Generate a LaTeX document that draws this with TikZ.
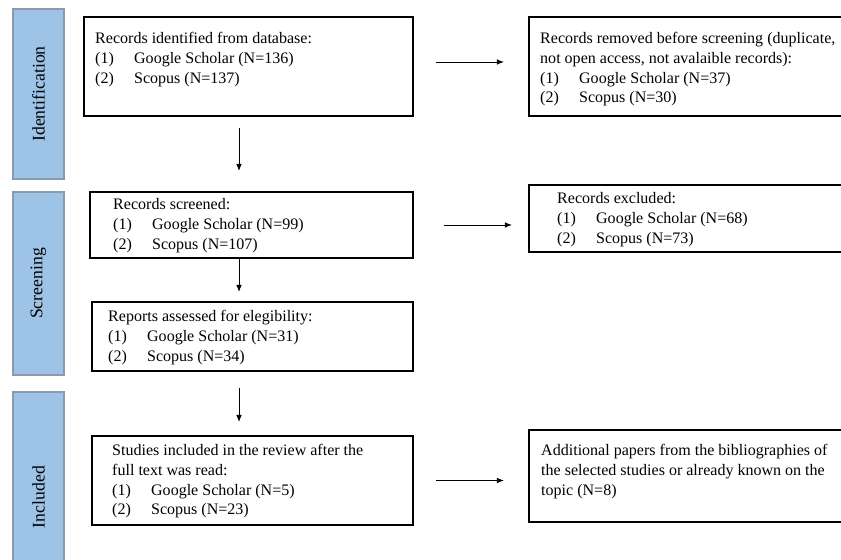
\documentclass[tikz,border=0pt]{standalone}
\usepackage{fontspec}
\setmainfont{Liberation Serif}
\usetikzlibrary{positioning,arrows.meta}

\definecolor{phasefill}{HTML}{9DC3E6}
\definecolor{phaseline}{HTML}{8A9AAD}
\newcommand{\px}{0.025cm}
\newcommand{\itm}[2]{\makebox[27.7pt][l]{#1}#2}

\begin{document}
\begin{tikzpicture}[
    x=0.025cm, y=-0.025cm,
    phase/.style={rectangle, draw=phaseline, line width=0.8pt, fill=phasefill, rotate=90,
                  minimum height=51*\px, inner sep=0pt, font=\fontsize{12.6}{14}\selectfont},
    box/.style={rectangle, draw=black, line width=1.5pt, inner sep=0pt},
    txt/.style={anchor=north west, inner sep=0pt, align=left, font=\fontsize{11.4}{13.94}\selectfont},
    arrow/.style={-{Latex[length=5pt,width=4pt]}, line width=0.6pt, black}
]
\useasboundingbox (0,0) rectangle (841,559);
\clip (0,0) rectangle (841,559);

% Phases
\node[phase, minimum width=170*\px] (pident) at (38.5,94) {Identification};
\node[phase, minimum width=183*\px] (pscreen) at (38.5,283.5) {Screening};
\node[phase, minimum width=210*\px] (pincl) at (38.5,497) {Included};

% Main column
\node[box, minimum width=329*\px, minimum height=99*\px] (ident) at (248.5,66.5) {};
\node[txt] (identtxt) at ([shift={(12,13.85)}]ident.north west) {
    \strut Records identified from database:\\
    \itm{(1)}{Google Scholar (N=136)}\\
    \itm{(2)}{Scopus (N=137)}
};

\node[box, minimum width=323*\px, minimum height=66*\px] (screen) at (251.5,225) {};
\node[txt] (screentxt) at ([shift={(24,4.85)}]screen.north west) {
    \strut Records screened:\\
    \itm{(1)}{Google Scholar (N=99)}\\
    \itm{(2)}{Scopus (N=107)}
};

\node[box, minimum width=321*\px, minimum height=69*\px] (assess) at (252.5,336.5) {};
\node[txt] (assesstxt) at ([shift={(17,6.85)}]assess.north west) {
    \strut Reports assessed for elegibility:\\
    \itm{(1)}{Google Scholar (N=31)}\\
    \itm{(2)}{Scopus (N=34)}
};

\node[box, minimum width=321*\px, minimum height=89*\px] (incl) at (252.5,480.5) {};
\node[txt] (incltxt) at ([shift={(21,6.85)}]incl.north west) {
    \strut Studies included in the review after the\\
    full text was read:\\
    \itm{(1)}{Google Scholar (N=5)}\\
    \itm{(2)}{Scopus (N=23)}
};

% Side column
\node[box, minimum width=321*\px, minimum height=99*\px] (removed) at (689.5,66.5) {};
\node[txt] (removedtxt) at ([shift={(12,13.85)}]removed.north west) {
    \strut Records removed before screening (duplicate,\\
    not open access, not avalaible records):\\
    \itm{(1)}{Google Scholar (N=37)}\\
    \itm{(2)}{Scopus (N=30)}
};

\node[box, minimum width=321*\px, minimum height=67*\px] (excluded) at (689.5,218.5) {};
\node[txt] (excludedtxt) at ([shift={(29,5.85)}]excluded.north west) {
    \strut Records excluded:\\
    \itm{(1)}{Google Scholar (N=68)}\\
    \itm{(2)}{Scopus (N=73)}
};

\node[box, minimum width=321*\px, minimum height=92*\px] (extra) at (689.5,476) {};
\node[txt] (extratxt) at ([shift={(13,12.85)}]extra.north west) {
    \strut Additional papers from the bibliographies of\\
    the selected studies or already known on the\\
    topic (N=8)
};

% Flow arrows
\coordinate (col) at (239,0);
\draw[arrow, shorten <=7.8pt, shorten >=14.2pt] (ident.south -| col) -- (screen.north -| col);
\draw[arrow, shorten >=6.4pt] (screen.south -| col) -- (assess.north -| col);
\draw[arrow, shorten <=11.4pt, shorten >=9.2pt] (assess.south -| col) -- (incl.north -| col);

\draw[arrow, shorten <=15.6pt, shorten >=17.1pt] ([yshift=3.2pt]ident.east) -- ([yshift=3.2pt]removed.west);
\draw[arrow, shorten <=21.3pt, shorten >=11.4pt] (screen.east) -- (screen.east -| excluded.west);
\draw[arrow, shorten <=15.6pt, shorten >=17.1pt] (incl.east) -- (incl.east -| extra.west);

\end{tikzpicture}
\end{document}
